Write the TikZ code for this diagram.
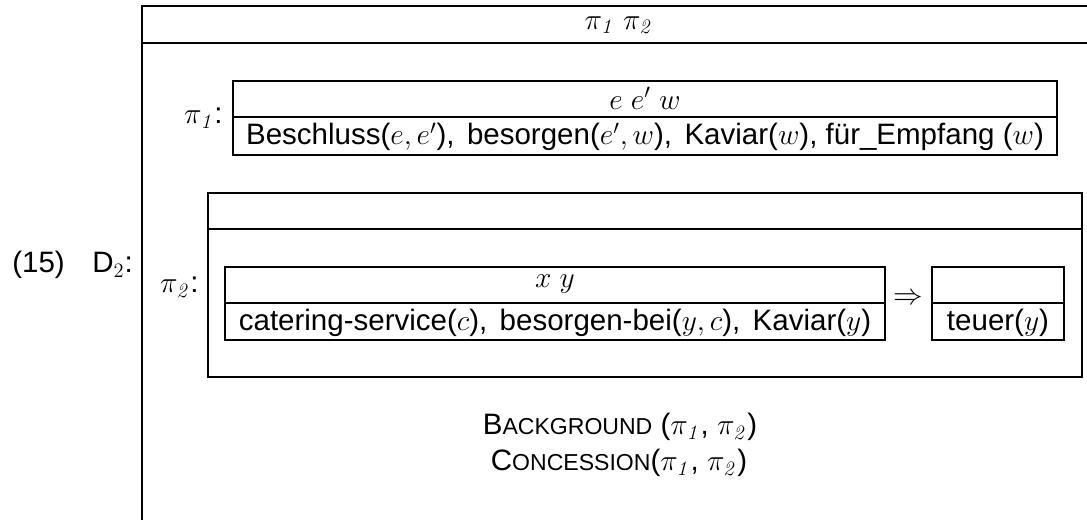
\documentclass[tikz,border=0pt]{standalone}
\usepackage[no-math]{fontspec}
\setmainfont{Liberation Sans}
\newcommand\fs{\fontsize{17.28}{20}\selectfont}
\newcommand\fsc{\fontsize{13.5}{16}\selectfont}
\newcommand\pia{\pi_{\mathit{1}}}
\newcommand\pib{\pi_{\mathit{2}}}
\newcommand\gap{\hspace{0.42em}}
\begin{document}
\begin{tikzpicture}[x=0.5857pt,y=-0.5857pt,
  frame/.style={draw, line width=1.6pt, outer sep=0pt, inner sep=0pt, anchor=north west},
  thinframe/.style={draw, line width=1.1pt, outer sep=0pt, inner sep=0pt, anchor=north west},
  sep/.style={line width=1.6pt},
  thinsep/.style={line width=1.1pt},
  lbl/.style={inner sep=0pt, font=\fs}]
\useasboundingbox (0,0) rectangle (1087,520);
\clip (0,0) rectangle (1087,520);
% outer DRS
\node[frame, minimum width=954*0.5857pt, minimum height=524*0.5857pt] (outer) at (142,6) {};
\draw[sep] (outer.west |- 0,43) -- (outer.east |- 0,43);
\node[lbl] (hdr) at (619,25) {$\pia\ \pib$};
% pi1 box
\node[frame, minimum width=824*0.5857pt, minimum height=74*0.5857pt] (p1box) at (233,81) {};
\draw[sep] (p1box.west |- 0,117) -- (p1box.east |- 0,117);
\node[lbl, anchor=east] (p1lab) at (223,118) {$\pia$:};
\node[lbl] (p1u) at (645,98) {$e\ e'\ w$};
\node[lbl] (p1c) at (645,137) {Beschluss($e,e'$),\gap besorgen($e',w$),\gap Kaviar($w$), für\_Empfang ($w$)};
% example number
\node[lbl, anchor=west] (num) at (12,265) {(15)};
\node[lbl, anchor=west] (d2) at (92,265) {D$_2$:};
% pi2 box
\node[frame, minimum width=874*0.5857pt, minimum height=184*0.5857pt] (p2box) at (208,193) {};
\draw[sep] (p2box.west |- 0,229) -- (p2box.east |- 0,229);
\node[lbl, anchor=east] (p2lab) at (199,287) {$\pib$:};
% antecedent
\node[thinframe, minimum width=660*0.5857pt, minimum height=73*0.5857pt] (cbox) at (225,267) {};
\draw[thinsep] (cbox.west |- 0,303) -- (cbox.east |- 0,303);
\node[lbl] (cu) at (555,284) {$x\ y$};
\node[lbl] (cc) at (555,323) {catering-service($c$),\gap besorgen-bei($y,c$),\gap Kaviar($y$)};
\node[lbl] (imp) at (908,299) {$\Rightarrow$};
% consequent
\node[frame, minimum width=132*0.5857pt, minimum height=73*0.5857pt] (tbox) at (932,267) {};
\draw[sep] (tbox.west |- 0,303) -- (tbox.east |- 0,303);
\node[lbl] (tc) at (998,323) {teuer($y$)};
% relations
\node[lbl] (bg) at (620,427) {B{\fsc ACKGROUND} ($\pia$, $\pib$)};
\node[lbl] (cs) at (619,463) {C{\fsc ONCESSION}($\pia$, $\pib$)};
\end{tikzpicture}
\end{document}
